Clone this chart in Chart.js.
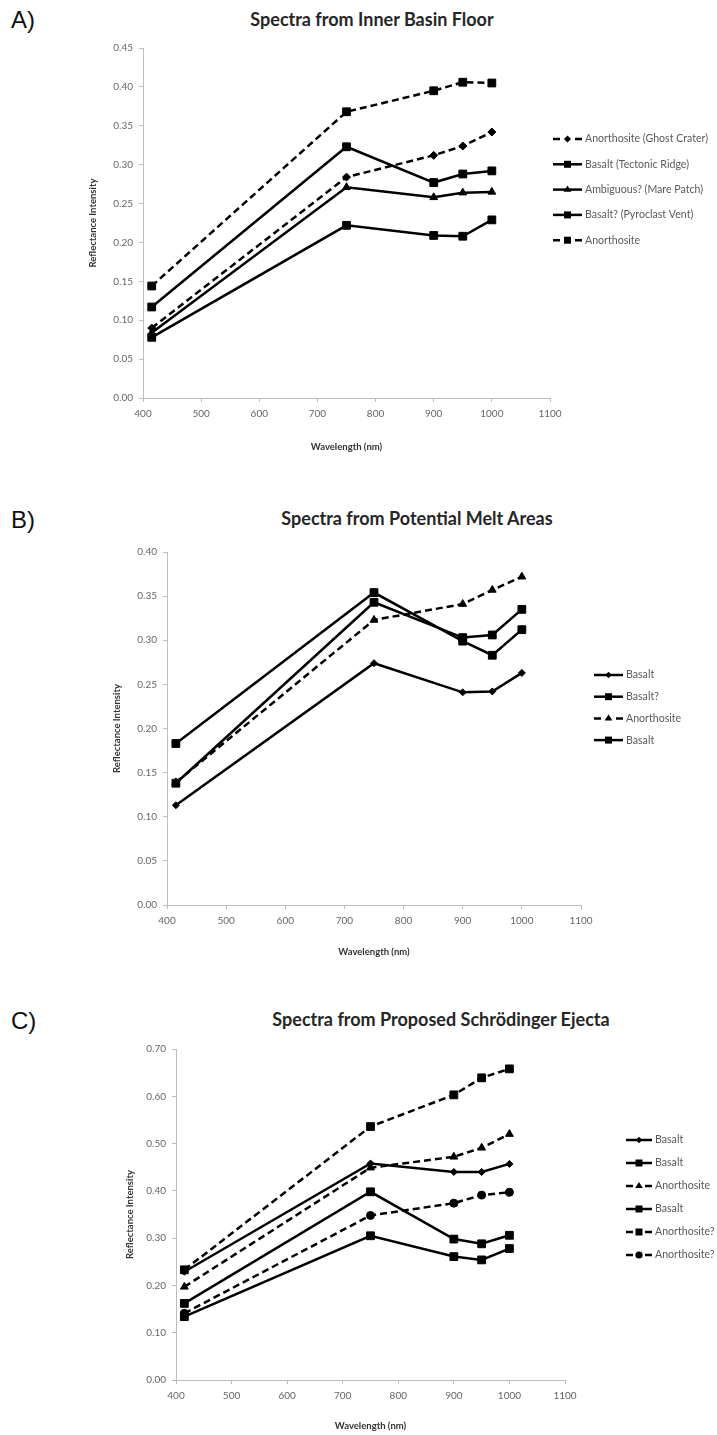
<!DOCTYPE html>
<html>
<head>
<meta charset="utf-8">
<title>Reflectance spectra</title>
<script src="https://cdn.jsdelivr.net/npm/chart.js@4"></script>
<style>
    body {
        margin: 0;
        background: #ffffff;
    }

    #page {
        position: relative;
        width: 717px;
        height: 1435px;
        overflow: hidden;
    }

    .panel-label {
        position: absolute;
        left: 11px;
        font-family: "Liberation Sans", Arial, sans-serif;
        font-size: 24px;
        color: #111;
        line-height: 28px;
    }

    .chart-title {
        position: absolute;
        width: 440px;
        text-align: center;
        font-family: Lato, "Open Sans", sans-serif;
        font-weight: bold;
        font-size: 18px;
        color: #262626;
        line-height: 22px;
    }

    canvas {
        position: absolute;
        left: 0;
    }
</style>
</head>
<body>

<div id="page">
    <div class="panel-label" style="top:6px">A)</div>
    <div class="chart-title" style="top:8px; left:152px">Spectra from Inner Basin Floor</div>
    <canvas id="chartA" width="717" height="470" style="top:0px"></canvas>

    <div class="panel-label" style="top:506px">B)</div>
    <div class="chart-title" style="top:507px; left:197px">Spectra from Potential Melt Areas</div>
    <canvas id="chartB" width="717" height="490" style="top:480px"></canvas>

    <div class="panel-label" style="top:1007px">C)</div>
    <div class="chart-title" style="top:1008px; left:221px">Spectra from Proposed Schrödinger Ejecta</div>
    <canvas id="chartC" width="717" height="445" style="top:990px"></canvas>
</div>

<script>
    // wavelengths of the measured points (nm)
    const wavelengths = [415, 750, 900, 950, 1000];

    // A) Spectra from Inner Basin Floor
    const aLabels = ['Anorthosite (Ghost Crater)', 'Basalt (Tectonic Ridge)', 'Ambiguous? (Mare Patch)', 'Basalt? (Pyroclast Vent)', 'Anorthosite'];
    const aGhostCrater = [0.090, 0.284, 0.312, 0.324, 0.342];
    const aTectonicRidge = [0.117, 0.323, 0.277, 0.288, 0.292];
    const aMarePatch = [0.084, 0.271, 0.258, 0.264, 0.265];
    const aPyroclastVent = [0.078, 0.222, 0.209, 0.208, 0.229];
    const aAnorthosite = [0.144, 0.368, 0.395, 0.406, 0.405];
    const aYMax = 0.45;
    const aYStep = 0.05;

    // B) Spectra from Potential Melt Areas
    const bLabels = ['Basalt', 'Basalt?', 'Anorthosite', 'Basalt'];
    const bBasalt1 = [0.113, 0.274, 0.241, 0.242, 0.263];
    const bBasalt2 = [0.138, 0.343, 0.303, 0.306, 0.335];
    const bAnorthosite = [0.139, 0.323, 0.341, 0.357, 0.372];
    const bBasalt3 = [0.183, 0.354, 0.299, 0.283, 0.312];
    const bYMax = 0.40;
    const bYStep = 0.05;

    // C) Spectra from Proposed Schrödinger Ejecta
    const cLabels = ['Basalt', 'Basalt', 'Anorthosite', 'Basalt', 'Anorthosite?', 'Anorthosite?'];
    const cBasalt1 = [0.229, 0.458, 0.440, 0.440, 0.457];
    const cBasalt2 = [0.162, 0.398, 0.298, 0.288, 0.306];
    const cAnorthosite = [0.197, 0.449, 0.472, 0.491, 0.520];
    const cBasalt3 = [0.134, 0.305, 0.261, 0.254, 0.278];
    const cAnorthosite2 = [0.233, 0.536, 0.603, 0.639, 0.658];
    const cAnorthosite3 = [0.141, 0.348, 0.374, 0.391, 0.397];
    const cYMax = 0.70;
    const cYStep = 0.10;

    const xMin = 400;
    const xMax = 1100;
    const xStep = 100;

    const DASH = [7, 4];

    function toPoints(values) {
        return values.map((v, i) => ({ x: wavelengths[i], y: v }));
    }

    function series(label, values, marker, radius, dashed) {
        return {
            label: label,
            data: toPoints(values),
            borderColor: '#000',
            backgroundColor: '#000',
            borderWidth: 2.5,
            borderDash: dashed ? DASH : [],
            pointStyle: marker,
            pointRadius: radius,
            pointHoverRadius: radius,
            pointBackgroundColor: '#000',
            pointBorderColor: '#000',
            pointBorderWidth: 1,
            tension: 0,
            fill: false
        };
    }

    // small marker painter for the legend
    function drawMarker(ctx, style, x, y, r) {
        ctx.beginPath();
        if (style === 'rect') {
            const s = r * Math.SQRT1_2;
            ctx.rect(x - s, y - s, 2 * s, 2 * s);
        } else if (style === 'rectRot') {
            ctx.moveTo(x - r, y);
            ctx.lineTo(x, y - r);
            ctx.lineTo(x + r, y);
            ctx.lineTo(x, y + r);
            ctx.closePath();
        } else if (style === 'triangle') {
            const h = r * 1.5;
            ctx.moveTo(x, y - r);
            ctx.lineTo(x + r * 0.95, y + h - r);
            ctx.lineTo(x - r * 0.95, y + h - r);
            ctx.closePath();
        } else {
            ctx.arc(x, y, r, 0, Math.PI * 2);
        }
        ctx.fill();
    }

    // Excel style legend: line + marker, text on the right
    const sideLegend = {
        id: 'sideLegend',
        afterDraw(chart, args, opts) {
            const ctx = chart.ctx;
            ctx.save();
            chart.data.datasets.forEach((ds, i) => {
                const y = opts.top + i * opts.gap;
                const x0 = opts.left;
                const x1 = opts.left + opts.lineLen;
                const xm = (x0 + x1) / 2;

                ctx.strokeStyle = '#000';
                ctx.fillStyle = '#000';
                ctx.lineWidth = 2.5;
                ctx.setLineDash([]);
                ctx.beginPath();
                if (ds.borderDash.length) {
                    ctx.moveTo(x0, y);
                    ctx.lineTo(x0 + 7, y);
                    ctx.moveTo(x1 - 7, y);
                    ctx.lineTo(x1, y);
                } else {
                    ctx.moveTo(x0, y);
                    ctx.lineTo(x1, y);
                }
                ctx.stroke();
                drawMarker(ctx, ds.pointStyle, xm, y, ds.pointRadius * 0.9);

                ctx.fillStyle = '#595959';
                ctx.font = '10.6px Lato, "Open Sans", sans-serif';
                ctx.textBaseline = 'middle';
                ctx.textAlign = 'left';
                ctx.fillText(ds.label, x1 + 3, y);
            });
            ctx.restore();
        }
    };

    function makeChart(id, datasets, box) {
        const axisGray = '#bdbdbd';
        const tickFont = { family: 'Lato', size: 10 };
        const titleFont = { family: 'Lato', size: 9.5, weight: 'bold' };

        return new Chart(document.getElementById(id), {
            type: 'line',
            data: { datasets: datasets },
            plugins: [sideLegend],
            options: {
                responsive: false,
                animation: false,
                events: [],
                layout: { padding: box.padding },
                plugins: {
                    legend: { display: false },
                    tooltip: { enabled: false },
                    title: { display: false },
                    sideLegend: box.legend
                },
                scales: {
                    x: {
                        type: 'linear',
                        min: xMin,
                        max: xMax,
                        ticks: {
                            stepSize: xStep,
                            color: '#666',
                            font: tickFont,
                            padding: 6,
                            maxRotation: 0,
                            callback: (v) => String(v)
                        },
                        grid: { drawOnChartArea: false, drawTicks: true, tickLength: 4, color: axisGray },
                        border: { color: axisGray, width: 1 },
                        title: { display: true, text: 'Wavelength (nm)', color: '#333', font: titleFont, padding: 0 },
                        afterFit: (axis) => { axis.height = box.xAxisHeight; }
                    },
                    y: {
                        min: 0,
                        max: box.yMax,
                        ticks: {
                            stepSize: box.yStep,
                            color: '#666',
                            font: tickFont,
                            padding: 6,
                            callback: (v) => v.toFixed(2)
                        },
                        grid: { drawOnChartArea: false, drawTicks: true, tickLength: 4, color: axisGray },
                        border: { color: axisGray, width: 1 },
                        title: { display: true, text: 'Reflectance Intensity', color: '#333', font: { family: 'Lato', size: 9.5, weight: 'bold' }, padding: 0 },
                        afterFit: (axis) => { axis.width = box.yAxisWidth; }
                    }
                }
            }
        });
    }

    // A
    makeChart('chartA', [
        series(aLabels[0], aGhostCrater, 'rectRot', 4, true),
        series(aLabels[1], aTectonicRidge, 'rect', 5.5, false),
        series(aLabels[2], aMarePatch, 'triangle', 4.5, false),
        series(aLabels[3], aPyroclastVent, 'rect', 5.5, false),
        series(aLabels[4], aAnorthosite, 'rect', 5.5, true)
    ], {
        padding: { top: 48, left: 87, right: 167, bottom: 17 },
        yAxisWidth: 56,
        xAxisHeight: 55,
        yMax: aYMax,
        yStep: aYStep,
        legend: { left: 553, top: 139, gap: 25.3, lineLen: 29 }
    });

    // B
    makeChart('chartB', [
        series(bLabels[0], bBasalt1, 'rectRot', 3.5, false),
        series(bLabels[1], bBasalt2, 'rect', 5.5, false),
        series(bLabels[2], bAnorthosite, 'triangle', 4.5, true),
        series(bLabels[3], bBasalt3, 'rect', 5.5, false)
    ], {
        padding: { top: 72, left: 111, right: 136, bottom: 12 },
        yAxisWidth: 56,
        xAxisHeight: 53,
        yMax: bYMax,
        yStep: bYStep,
        legend: { left: 594, top: 195, gap: 21.7, lineLen: 29 }
    });

    // C
    makeChart('chartC', [
        series(cLabels[0], cBasalt1, 'rectRot', 3.5, false),
        series(cLabels[1], cBasalt2, 'rect', 5.5, false),
        series(cLabels[2], cAnorthosite, 'triangle', 4.5, true),
        series(cLabels[3], cBasalt3, 'rect', 5.5, false),
        series(cLabels[4], cAnorthosite2, 'rect', 5.5, true),
        series(cLabels[5], cAnorthosite3, 'circle', 4, true)
    ], {
        padding: { top: 59, left: 124, right: 152, bottom: 3 },
        yAxisWidth: 52,
        xAxisHeight: 52,
        yMax: cYMax,
        yStep: cYStep,
        legend: { left: 626, top: 150, gap: 23, lineLen: 26 }
    });
</script>

</body>
</html>
